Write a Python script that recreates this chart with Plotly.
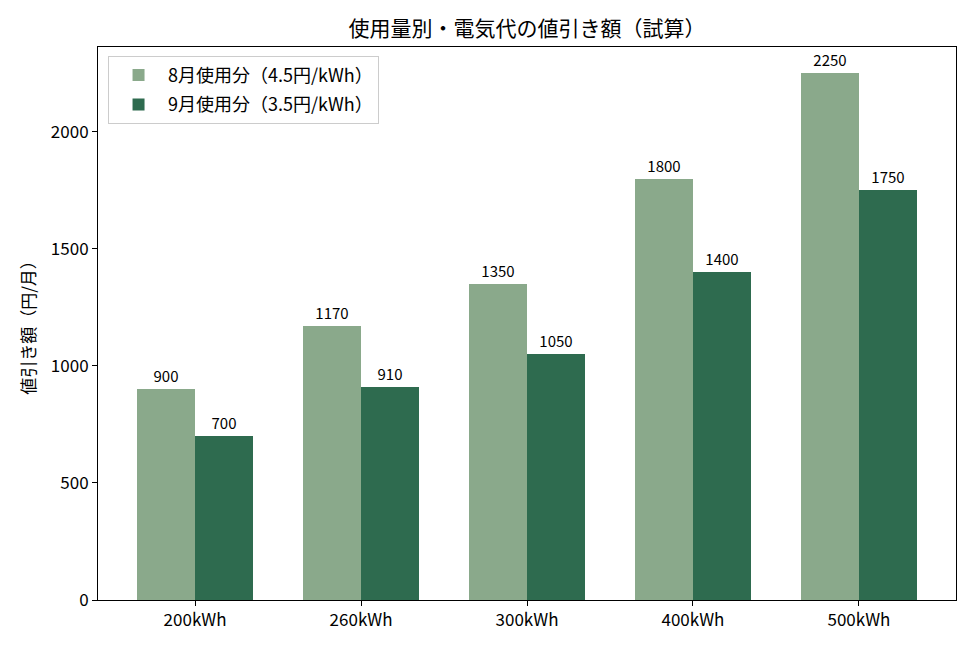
import plotly.graph_objects as go

categories = ["200kWh", "260kWh", "300kWh", "400kWh", "500kWh"]
aug_values = [900, 1170, 1350, 1800, 2250]
sep_values = [700, 910, 1050, 1400, 1750]
aug_name = "8月使用分（4.5円/kWh）"
sep_name = "9月使用分（3.5円/kWh）"

FONT = "Noto Sans CJK JP"
idx = list(range(len(categories)))
w = 0.35

fig = go.Figure()
fig.add_trace(go.Bar(x=idx, y=aug_values, width=w, offset=-w, name=aug_name,
                     legendgroup="a",
                     marker=dict(color="#8aa98b", line=dict(width=0)),
                     text=[str(v) for v in aug_values], textposition="outside",
                     textfont=dict(size=15, color="black"), cliponaxis=False))
fig.add_trace(go.Bar(x=idx, y=sep_values, width=w, offset=0, name=sep_name,
                     legendgroup="b",
                     marker=dict(color="#2e6b4f", line=dict(width=0)),
                     text=[str(v) for v in sep_values], textposition="outside",
                     textfont=dict(size=15, color="black"), cliponaxis=False))

fig.update_layout(
    width=975, height=650,
    margin=dict(l=90, r=27, t=39, b=58),
    paper_bgcolor="white", plot_bgcolor="white",
    font=dict(family=FONT, size=17, color="black"),
    title=dict(text="使用量別・電気代の値引き額（試算）", x=0.5, xanchor="center",
               xref="paper", y=0.969, yanchor="middle", font=dict(size=21)),
    showlegend=True,
    legend=dict(x=0.0117, y=0.984, xanchor="left", yanchor="top",
                bordercolor="#cccccc", borderwidth=1, bgcolor="white",
                font=dict(size=18), traceorder="grouped", tracegroupgap=3,
                itemwidth=49),
    bargap=0, barmode="overlay",
)
fig.update_xaxes(range=[-0.585, 4.585], tickvals=idx, ticktext=categories,
                 showline=True, linecolor="black", linewidth=1, mirror=True,
                 ticks="outside", ticklen=5, tickcolor="black", showgrid=False,
                 zeroline=False, tickfont=dict(size=17))
fig.update_yaxes(range=[0, 2362.5], tickvals=[0, 500, 1000, 1500, 2000],
                 showline=True, linecolor="black", linewidth=1, mirror=True,
                 ticks="outside", ticklen=5, tickcolor="black", showgrid=False,
                 zeroline=False, tickfont=dict(size=17),
                 title=dict(text="値引き額（円/月）", font=dict(size=17), standoff=10))

fig.write_html("out.html")
